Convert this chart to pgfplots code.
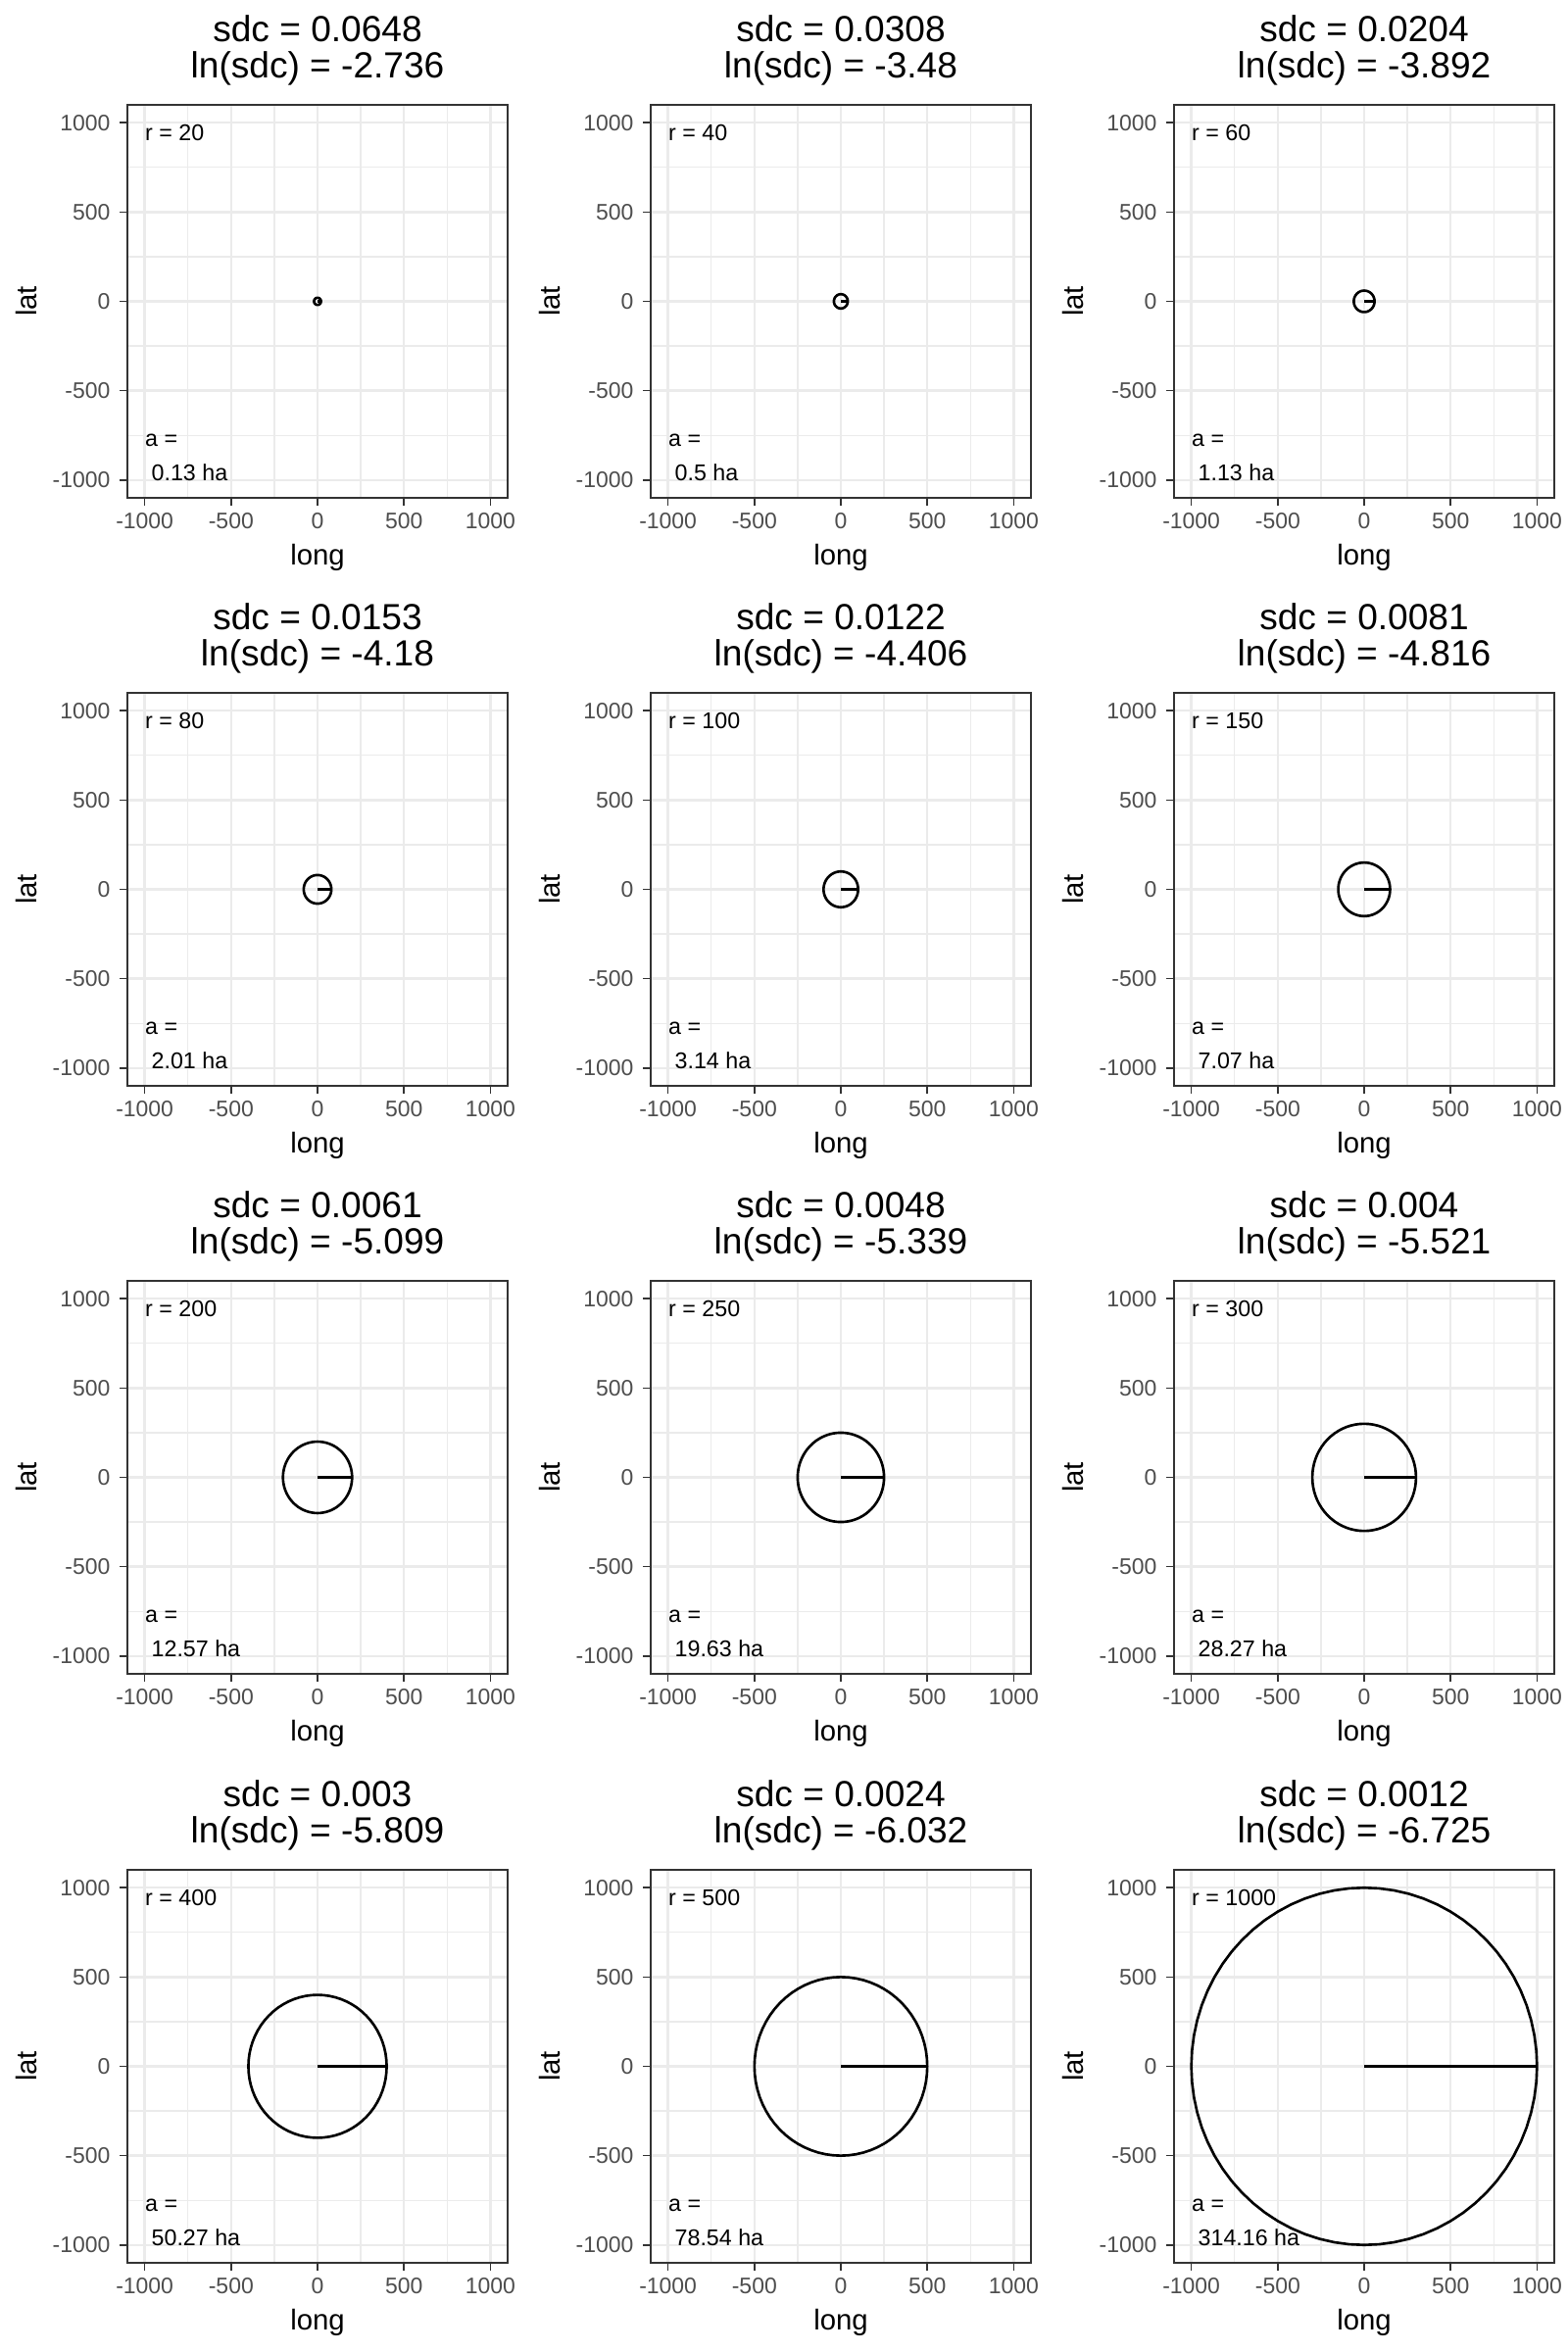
\documentclass[border=0pt]{standalone}
\usepackage{pgfplots}
\pgfplotsset{compat=1.18}
\usepackage{pgfplotstable}
\usepackage{fontspec}
\setmainfont{Liberation Sans}
\definecolor{gridc}{HTML}{EBEBEB}
\definecolor{grayb}{HTML}{333333}
\definecolor{grayt}{HTML}{4D4D4D}

\pgfplotstableread{
x y
0 0
1.0000 0.0000
0.9962 0.0872
0.9848 0.1736
0.9659 0.2588
0.9397 0.3420
0.9063 0.4226
0.8660 0.5000
0.8192 0.5736
0.7660 0.6428
0.7071 0.7071
0.6428 0.7660
0.5736 0.8192
0.5000 0.8660
0.4226 0.9063
0.3420 0.9397
0.2588 0.9659
0.1736 0.9848
0.0872 0.9962
0.0000 1.0000
-0.0872 0.9962
-0.1736 0.9848
-0.2588 0.9659
-0.3420 0.9397
-0.4226 0.9063
-0.5000 0.8660
-0.5736 0.8192
-0.6428 0.7660
-0.7071 0.7071
-0.7660 0.6428
-0.8192 0.5736
-0.8660 0.5000
-0.9063 0.4226
-0.9397 0.3420
-0.9659 0.2588
-0.9848 0.1736
-0.9962 0.0872
-1.0000 0.0000
-0.9962 -0.0872
-0.9848 -0.1736
-0.9659 -0.2588
-0.9397 -0.3420
-0.9063 -0.4226
-0.8660 -0.5000
-0.8192 -0.5736
-0.7660 -0.6428
-0.7071 -0.7071
-0.6428 -0.7660
-0.5736 -0.8192
-0.5000 -0.8660
-0.4226 -0.9063
-0.3420 -0.9397
-0.2588 -0.9659
-0.1736 -0.9848
-0.0872 -0.9962
0.0000 -1.0000
0.0872 -0.9962
0.1736 -0.9848
0.2588 -0.9659
0.3420 -0.9397
0.4226 -0.9063
0.5000 -0.8660
0.5736 -0.8192
0.6428 -0.7660
0.7071 -0.7071
0.7660 -0.6428
0.8192 -0.5736
0.8660 -0.5000
0.9063 -0.4226
0.9397 -0.3420
0.9659 -0.2588
0.9848 -0.1736
0.9962 -0.0872
1.0000 0.0000
}\unitcircle

\pgfplotsset{
  panel/.style={
    scale only axis, width=140.20pt, height=144.90pt,
    anchor=south west, clip=false,
    xmin=-1100, xmax=1100, ymin=-1100, ymax=1100,
    xtick={-1000,-500,0,500,1000}, ytick={-1000,-500,0,500,1000},
    xticklabels={-1000,-500,0,500,1000},
    yticklabels={-1000,-500,0,500,1000},
    minor xtick={-750,-250,250,750}, minor ytick={-750,-250,250,750},
    grid=both,
    major grid style={color=gridc, line width=0.85pt},
    minor grid style={color=gridc, line width=0.45pt},
    axis line style={color=grayb, line width=0.5pt},
    tick align=outside, tick pos=left,
    major tick length=2.75pt, minor tick length=0pt,
    major tick style={color=grayb, line width=0.6pt},
    minor tick style={draw=none},
    ticklabel style={font=\fontsize{8.3}{9.8}\selectfont, text=grayt},
    xticklabel style={anchor=base, inner sep=0pt, yshift=-8.8pt},
    yticklabel style={anchor=east, inner sep=0pt, xshift=-3.4pt},
  }
}
\newcommand{\ttl}{\fontsize{13.4}{15}\selectfont}
\newcommand{\lbl}{\fontsize{10.6}{12.5}\selectfont}
\newcommand{\ann}{\fontsize{8.4}{10}\selectfont}

\newcommand{\panel}[6]{%
\begin{axis}[panel, at={(#1,#2)}]
\addplot[black, line width=0.95pt, line join=round, no marks] table[x expr=\thisrow{x}*#3, y expr=\thisrow{y}*#3]{\unitcircle};
\node[anchor=base west, inner sep=0pt, font=\ann] at (axis cs:-1000,900) {r = #3};
\node[anchor=base west, inner sep=0pt, font=\ann] at (axis cs:-1000,-811) {a =};
\node[anchor=base west, inner sep=0pt, font=\ann] at (axis cs:-1000,-1003) {\ #6 ha};
\node[anchor=base, inner sep=0pt, font=\ttl] at ([yshift=23.2pt]axis description cs:0.5,1) {sdc = #4};
\node[anchor=base, inner sep=0pt, font=\ttl] at ([yshift=9.8pt]axis description cs:0.5,1) {ln(sdc) = #5};
\node[anchor=base, inner sep=0pt, font=\lbl] at ([yshift=-24.6pt]axis description cs:0.5,0) {long};
\node[anchor=base, inner sep=0pt, font=\lbl, rotate=90] at ([xshift=-33.6pt]axis description cs:0,0.5) {lat};
\end{axis}}

\begin{document}
\begin{tikzpicture}
\path (0,0) rectangle (578.16pt,867.24pt);
\panel{46.98pt}{683.67pt}{20}{0.0648}{-2.736}{0.13}
\panel{239.94pt}{683.67pt}{40}{0.0308}{-3.48}{0.5}
\panel{432.90pt}{683.67pt}{60}{0.0204}{-3.892}{1.13}
\panel{46.98pt}{466.86pt}{80}{0.0153}{-4.18}{2.01}
\panel{239.94pt}{466.86pt}{100}{0.0122}{-4.406}{3.14}
\panel{432.90pt}{466.86pt}{150}{0.0081}{-4.816}{7.07}
\panel{46.98pt}{250.05pt}{200}{0.0061}{-5.099}{12.57}
\panel{239.94pt}{250.05pt}{250}{0.0048}{-5.339}{19.63}
\panel{432.90pt}{250.05pt}{300}{0.004}{-5.521}{28.27}
\panel{46.98pt}{32.88pt}{400}{0.003}{-5.809}{50.27}
\panel{239.94pt}{32.88pt}{500}{0.0024}{-6.032}{78.54}
\panel{432.90pt}{32.88pt}{1000}{0.0012}{-6.725}{314.16}
\end{tikzpicture}
\end{document}
